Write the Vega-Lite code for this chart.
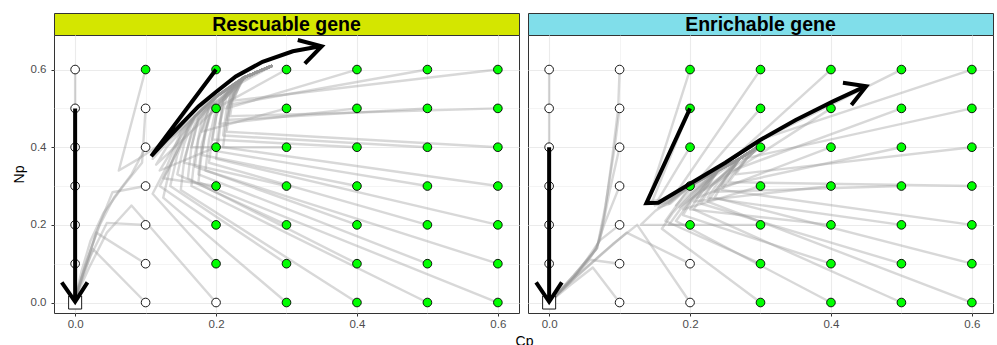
{
"$schema": "https://vega.github.io/schema/vega-lite/v6.json",
"padding": {"left": 11, "top": 12, "right": 4, "bottom": 0},
"background": "white",
"spacing": 7,
"title": {"text": "Cp", "orient": "bottom", "anchor": "middle", "frame": "bounds", "dx": 22, "offset": 4, "font": "Liberation Sans", "fontSize": 14, "fontWeight": "normal", "color": "black"},
"config": {
  "font": "Liberation Sans",
  "axis": {"labelFont": "Liberation Sans", "labelFontSize": 11.5, "labelColor": "#4d4d4d", "tickColor": "#333333", "tickSize": 3, "domain": false, "gridColor": "#ebebeb", "titleFont": "Liberation Sans", "titleFontSize": 14, "titleFontWeight": "normal", "titleColor": "black", "labelFlush": false, "labelOverlap": false}
},
"datasets": {
"points": [
{"p":"R","cp":0,"np":0,"f":"w","k":"s"},{"p":"R","cp":0,"np":0.1,"f":"w","k":"c"},{"p":"R","cp":0,"np":0.2,"f":"w","k":"c"},{"p":"R","cp":0,"np":0.3,"f":"w","k":"c"},{"p":"R","cp":0,"np":0.4,"f":"w","k":"c"},{"p":"R","cp":0,"np":0.5,"f":"w","k":"c"},{"p":"R","cp":0,"np":0.6,"f":"w","k":"c"},
{"p":"R","cp":0.1,"np":0,"f":"w","k":"c"},{"p":"R","cp":0.1,"np":0.1,"f":"w","k":"c"},{"p":"R","cp":0.1,"np":0.2,"f":"w","k":"c"},{"p":"R","cp":0.1,"np":0.3,"f":"w","k":"c"},{"p":"R","cp":0.1,"np":0.4,"f":"w","k":"c"},{"p":"R","cp":0.1,"np":0.5,"f":"w","k":"c"},{"p":"R","cp":0.1,"np":0.6,"f":"g","k":"c"},
{"p":"R","cp":0.2,"np":0,"f":"w","k":"c"},{"p":"R","cp":0.2,"np":0.1,"f":"g","k":"c"},{"p":"R","cp":0.2,"np":0.2,"f":"g","k":"c"},{"p":"R","cp":0.2,"np":0.3,"f":"g","k":"c"},{"p":"R","cp":0.2,"np":0.4,"f":"g","k":"c"},{"p":"R","cp":0.2,"np":0.5,"f":"g","k":"c"},{"p":"R","cp":0.2,"np":0.6,"f":"g","k":"c"},
{"p":"R","cp":0.3,"np":0,"f":"g","k":"c"},{"p":"R","cp":0.3,"np":0.1,"f":"g","k":"c"},{"p":"R","cp":0.3,"np":0.2,"f":"g","k":"c"},{"p":"R","cp":0.3,"np":0.3,"f":"g","k":"c"},{"p":"R","cp":0.3,"np":0.4,"f":"g","k":"c"},{"p":"R","cp":0.3,"np":0.5,"f":"g","k":"c"},{"p":"R","cp":0.3,"np":0.6,"f":"g","k":"c"},
{"p":"R","cp":0.4,"np":0,"f":"g","k":"c"},{"p":"R","cp":0.4,"np":0.1,"f":"g","k":"c"},{"p":"R","cp":0.4,"np":0.2,"f":"g","k":"c"},{"p":"R","cp":0.4,"np":0.3,"f":"g","k":"c"},{"p":"R","cp":0.4,"np":0.4,"f":"g","k":"c"},{"p":"R","cp":0.4,"np":0.5,"f":"g","k":"c"},{"p":"R","cp":0.4,"np":0.6,"f":"g","k":"c"},
{"p":"R","cp":0.5,"np":0,"f":"g","k":"c"},{"p":"R","cp":0.5,"np":0.1,"f":"g","k":"c"},{"p":"R","cp":0.5,"np":0.2,"f":"g","k":"c"},{"p":"R","cp":0.5,"np":0.3,"f":"g","k":"c"},{"p":"R","cp":0.5,"np":0.4,"f":"g","k":"c"},{"p":"R","cp":0.5,"np":0.5,"f":"g","k":"c"},{"p":"R","cp":0.5,"np":0.6,"f":"g","k":"c"},
{"p":"R","cp":0.6,"np":0,"f":"g","k":"c"},{"p":"R","cp":0.6,"np":0.1,"f":"g","k":"c"},{"p":"R","cp":0.6,"np":0.2,"f":"g","k":"c"},{"p":"R","cp":0.6,"np":0.3,"f":"g","k":"c"},{"p":"R","cp":0.6,"np":0.4,"f":"g","k":"c"},{"p":"R","cp":0.6,"np":0.5,"f":"g","k":"c"},{"p":"R","cp":0.6,"np":0.6,"f":"g","k":"c"},
{"p":"E","cp":0,"np":0,"f":"w","k":"s"},{"p":"E","cp":0,"np":0.1,"f":"w","k":"c"},{"p":"E","cp":0,"np":0.2,"f":"w","k":"c"},{"p":"E","cp":0,"np":0.3,"f":"w","k":"c"},{"p":"E","cp":0,"np":0.4,"f":"w","k":"c"},{"p":"E","cp":0,"np":0.5,"f":"w","k":"c"},{"p":"E","cp":0,"np":0.6,"f":"w","k":"c"},
{"p":"E","cp":0.1,"np":0,"f":"w","k":"c"},{"p":"E","cp":0.1,"np":0.1,"f":"w","k":"c"},{"p":"E","cp":0.1,"np":0.2,"f":"w","k":"c"},{"p":"E","cp":0.1,"np":0.3,"f":"w","k":"c"},{"p":"E","cp":0.1,"np":0.4,"f":"w","k":"c"},{"p":"E","cp":0.1,"np":0.5,"f":"w","k":"c"},{"p":"E","cp":0.1,"np":0.6,"f":"w","k":"c"},
{"p":"E","cp":0.2,"np":0,"f":"w","k":"c"},{"p":"E","cp":0.2,"np":0.1,"f":"w","k":"c"},{"p":"E","cp":0.2,"np":0.2,"f":"g","k":"c"},{"p":"E","cp":0.2,"np":0.3,"f":"g","k":"c"},{"p":"E","cp":0.2,"np":0.4,"f":"g","k":"c"},{"p":"E","cp":0.2,"np":0.5,"f":"g","k":"c"},{"p":"E","cp":0.2,"np":0.6,"f":"g","k":"c"},
{"p":"E","cp":0.3,"np":0,"f":"g","k":"c"},{"p":"E","cp":0.3,"np":0.1,"f":"g","k":"c"},{"p":"E","cp":0.3,"np":0.2,"f":"g","k":"c"},{"p":"E","cp":0.3,"np":0.3,"f":"g","k":"c"},{"p":"E","cp":0.3,"np":0.4,"f":"g","k":"c"},{"p":"E","cp":0.3,"np":0.5,"f":"g","k":"c"},{"p":"E","cp":0.3,"np":0.6,"f":"g","k":"c"},
{"p":"E","cp":0.4,"np":0,"f":"g","k":"c"},{"p":"E","cp":0.4,"np":0.1,"f":"g","k":"c"},{"p":"E","cp":0.4,"np":0.2,"f":"g","k":"c"},{"p":"E","cp":0.4,"np":0.3,"f":"g","k":"c"},{"p":"E","cp":0.4,"np":0.4,"f":"g","k":"c"},{"p":"E","cp":0.4,"np":0.5,"f":"g","k":"c"},{"p":"E","cp":0.4,"np":0.6,"f":"g","k":"c"},
{"p":"E","cp":0.5,"np":0,"f":"g","k":"c"},{"p":"E","cp":0.5,"np":0.1,"f":"g","k":"c"},{"p":"E","cp":0.5,"np":0.2,"f":"g","k":"c"},{"p":"E","cp":0.5,"np":0.3,"f":"g","k":"c"},{"p":"E","cp":0.5,"np":0.4,"f":"g","k":"c"},{"p":"E","cp":0.5,"np":0.5,"f":"g","k":"c"},{"p":"E","cp":0.5,"np":0.6,"f":"g","k":"c"},
{"p":"E","cp":0.6,"np":0,"f":"g","k":"c"},{"p":"E","cp":0.6,"np":0.1,"f":"g","k":"c"},{"p":"E","cp":0.6,"np":0.2,"f":"g","k":"c"},{"p":"E","cp":0.6,"np":0.3,"f":"g","k":"c"},{"p":"E","cp":0.6,"np":0.4,"f":"g","k":"c"},{"p":"E","cp":0.6,"np":0.5,"f":"g","k":"c"},{"p":"E","cp":0.6,"np":0.6,"f":"g","k":"c"}
],
"traj": [
{"p":"R","id":"g1","o":0,"cp":0.1,"np":0.6},{"p":"R","id":"g1","o":1,"cp":0.062,"np":0.34},{"p":"R","id":"g1","o":2,"cp":0.09,"np":0.37},{"p":"R","id":"g1","o":3,"cp":0.14,"np":0.43},{"p":"R","id":"g1","o":4,"cp":0.17,"np":0.48},{"p":"R","id":"g1","o":5,"cp":0.2,"np":0.53},{"p":"R","id":"g1","o":6,"cp":0.24,"np":0.58},{"p":"R","id":"g1","o":7,"cp":0.28,"np":0.61},
{"p":"R","id":"g2","o":0,"cp":0.2,"np":0.6},{"p":"R","id":"g2","o":1,"cp":0.11,"np":0.37},{"p":"R","id":"g2","o":2,"cp":0.14,"np":0.43},{"p":"R","id":"g2","o":3,"cp":0.17,"np":0.48},{"p":"R","id":"g2","o":4,"cp":0.2,"np":0.53},{"p":"R","id":"g2","o":5,"cp":0.24,"np":0.58},{"p":"R","id":"g2","o":6,"cp":0.28,"np":0.61},
{"p":"R","id":"g3","o":0,"cp":0.2,"np":0.5},{"p":"R","id":"g3","o":1,"cp":0.115,"np":0.355},{"p":"R","id":"g3","o":2,"cp":0.13,"np":0.4},{"p":"R","id":"g3","o":3,"cp":0.17,"np":0.48},{"p":"R","id":"g3","o":4,"cp":0.2,"np":0.53},{"p":"R","id":"g3","o":5,"cp":0.24,"np":0.58},{"p":"R","id":"g3","o":6,"cp":0.28,"np":0.61},
{"p":"R","id":"g4","o":0,"cp":0.2,"np":0.4},{"p":"R","id":"g4","o":1,"cp":0.12,"np":0.34},{"p":"R","id":"g4","o":2,"cp":0.14,"np":0.4},{"p":"R","id":"g4","o":3,"cp":0.17,"np":0.48},{"p":"R","id":"g4","o":4,"cp":0.2,"np":0.53},{"p":"R","id":"g4","o":5,"cp":0.24,"np":0.58},{"p":"R","id":"g4","o":6,"cp":0.28,"np":0.61},
{"p":"R","id":"g5","o":0,"cp":0.2,"np":0.3},{"p":"R","id":"g5","o":1,"cp":0.125,"np":0.32},{"p":"R","id":"g5","o":2,"cp":0.145,"np":0.39},{"p":"R","id":"g5","o":3,"cp":0.17,"np":0.48},{"p":"R","id":"g5","o":4,"cp":0.2,"np":0.53},{"p":"R","id":"g5","o":5,"cp":0.24,"np":0.58},{"p":"R","id":"g5","o":6,"cp":0.28,"np":0.61},
{"p":"R","id":"g6","o":0,"cp":0.2,"np":0.2},{"p":"R","id":"g6","o":1,"cp":0.12,"np":0.3},{"p":"R","id":"g6","o":2,"cp":0.14,"np":0.37},{"p":"R","id":"g6","o":3,"cp":0.16,"np":0.45},{"p":"R","id":"g6","o":4,"cp":0.2,"np":0.53},{"p":"R","id":"g6","o":5,"cp":0.24,"np":0.58},{"p":"R","id":"g6","o":6,"cp":0.28,"np":0.61},
{"p":"R","id":"g7","o":0,"cp":0.2,"np":0.1},{"p":"R","id":"g7","o":1,"cp":0.11,"np":0.28},{"p":"R","id":"g7","o":2,"cp":0.13,"np":0.35},{"p":"R","id":"g7","o":3,"cp":0.15,"np":0.44},{"p":"R","id":"g7","o":4,"cp":0.19,"np":0.52},{"p":"R","id":"g7","o":5,"cp":0.24,"np":0.58},{"p":"R","id":"g7","o":6,"cp":0.28,"np":0.61},
{"p":"R","id":"g8","o":0,"cp":0.3,"np":0.6},{"p":"R","id":"g8","o":1,"cp":0.2,"np":0.5},{"p":"R","id":"g8","o":2,"cp":0.22,"np":0.55},{"p":"R","id":"g8","o":3,"cp":0.24,"np":0.58},{"p":"R","id":"g8","o":4,"cp":0.28,"np":0.61},
{"p":"R","id":"g9","o":0,"cp":0.3,"np":0.5},{"p":"R","id":"g9","o":1,"cp":0.18,"np":0.44},{"p":"R","id":"g9","o":2,"cp":0.19,"np":0.5},{"p":"R","id":"g9","o":3,"cp":0.24,"np":0.58},{"p":"R","id":"g9","o":4,"cp":0.28,"np":0.61},
{"p":"R","id":"g10","o":0,"cp":0.3,"np":0.4},{"p":"R","id":"g10","o":1,"cp":0.165,"np":0.4},{"p":"R","id":"g10","o":2,"cp":0.175,"np":0.47},{"p":"R","id":"g10","o":3,"cp":0.2,"np":0.53},{"p":"R","id":"g10","o":4,"cp":0.24,"np":0.58},{"p":"R","id":"g10","o":5,"cp":0.28,"np":0.61},
{"p":"R","id":"g11","o":0,"cp":0.3,"np":0.3},{"p":"R","id":"g11","o":1,"cp":0.155,"np":0.36},{"p":"R","id":"g11","o":2,"cp":0.165,"np":0.44},{"p":"R","id":"g11","o":3,"cp":0.2,"np":0.53},{"p":"R","id":"g11","o":4,"cp":0.24,"np":0.58},{"p":"R","id":"g11","o":5,"cp":0.28,"np":0.61},
{"p":"R","id":"g12","o":0,"cp":0.3,"np":0.2},{"p":"R","id":"g12","o":1,"cp":0.145,"np":0.33},{"p":"R","id":"g12","o":2,"cp":0.155,"np":0.41},{"p":"R","id":"g12","o":3,"cp":0.17,"np":0.48},{"p":"R","id":"g12","o":4,"cp":0.2,"np":0.53},{"p":"R","id":"g12","o":5,"cp":0.24,"np":0.58},{"p":"R","id":"g12","o":6,"cp":0.28,"np":0.61},
{"p":"R","id":"g13","o":0,"cp":0.3,"np":0.1},{"p":"R","id":"g13","o":1,"cp":0.135,"np":0.3},{"p":"R","id":"g13","o":2,"cp":0.145,"np":0.38},{"p":"R","id":"g13","o":3,"cp":0.165,"np":0.47},{"p":"R","id":"g13","o":4,"cp":0.2,"np":0.53},{"p":"R","id":"g13","o":5,"cp":0.24,"np":0.58},{"p":"R","id":"g13","o":6,"cp":0.28,"np":0.61},
{"p":"R","id":"g14","o":0,"cp":0.3,"np":0.0},{"p":"R","id":"g14","o":1,"cp":0.125,"np":0.27},{"p":"R","id":"g14","o":2,"cp":0.135,"np":0.35},{"p":"R","id":"g14","o":3,"cp":0.15,"np":0.43},{"p":"R","id":"g14","o":4,"cp":0.18,"np":0.5},{"p":"R","id":"g14","o":5,"cp":0.24,"np":0.58},{"p":"R","id":"g14","o":6,"cp":0.28,"np":0.61},
{"p":"R","id":"g15","o":0,"cp":0.4,"np":0.6},{"p":"R","id":"g15","o":1,"cp":0.215,"np":0.5},{"p":"R","id":"g15","o":2,"cp":0.225,"np":0.56},{"p":"R","id":"g15","o":3,"cp":0.24,"np":0.58},{"p":"R","id":"g15","o":4,"cp":0.28,"np":0.61},
{"p":"R","id":"g16","o":0,"cp":0.4,"np":0.5},{"p":"R","id":"g16","o":1,"cp":0.205,"np":0.46},{"p":"R","id":"g16","o":2,"cp":0.21,"np":0.52},{"p":"R","id":"g16","o":3,"cp":0.24,"np":0.58},{"p":"R","id":"g16","o":4,"cp":0.28,"np":0.61},
{"p":"R","id":"g17","o":0,"cp":0.4,"np":0.4},{"p":"R","id":"g17","o":1,"cp":0.195,"np":0.42},{"p":"R","id":"g17","o":2,"cp":0.2,"np":0.48},{"p":"R","id":"g17","o":3,"cp":0.215,"np":0.54},{"p":"R","id":"g17","o":4,"cp":0.24,"np":0.58},{"p":"R","id":"g17","o":5,"cp":0.28,"np":0.61},
{"p":"R","id":"g18","o":0,"cp":0.4,"np":0.3},{"p":"R","id":"g18","o":1,"cp":0.18,"np":0.38},{"p":"R","id":"g18","o":2,"cp":0.185,"np":0.45},{"p":"R","id":"g18","o":3,"cp":0.2,"np":0.53},{"p":"R","id":"g18","o":4,"cp":0.24,"np":0.58},{"p":"R","id":"g18","o":5,"cp":0.28,"np":0.61},
{"p":"R","id":"g19","o":0,"cp":0.4,"np":0.2},{"p":"R","id":"g19","o":1,"cp":0.17,"np":0.35},{"p":"R","id":"g19","o":2,"cp":0.175,"np":0.42},{"p":"R","id":"g19","o":3,"cp":0.19,"np":0.5},{"p":"R","id":"g19","o":4,"cp":0.24,"np":0.58},{"p":"R","id":"g19","o":5,"cp":0.28,"np":0.61},
{"p":"R","id":"g20","o":0,"cp":0.4,"np":0.1},{"p":"R","id":"g20","o":1,"cp":0.16,"np":0.32},{"p":"R","id":"g20","o":2,"cp":0.165,"np":0.4},{"p":"R","id":"g20","o":3,"cp":0.175,"np":0.48},{"p":"R","id":"g20","o":4,"cp":0.2,"np":0.53},{"p":"R","id":"g20","o":5,"cp":0.24,"np":0.58},{"p":"R","id":"g20","o":6,"cp":0.28,"np":0.61},
{"p":"R","id":"g21","o":0,"cp":0.4,"np":0.0},{"p":"R","id":"g21","o":1,"cp":0.15,"np":0.29},{"p":"R","id":"g21","o":2,"cp":0.155,"np":0.37},{"p":"R","id":"g21","o":3,"cp":0.17,"np":0.46},{"p":"R","id":"g21","o":4,"cp":0.2,"np":0.53},{"p":"R","id":"g21","o":5,"cp":0.24,"np":0.58},{"p":"R","id":"g21","o":6,"cp":0.28,"np":0.61},
{"p":"R","id":"g22","o":0,"cp":0.5,"np":0.6},{"p":"R","id":"g22","o":1,"cp":0.22,"np":0.51},{"p":"R","id":"g22","o":2,"cp":0.23,"np":0.56},{"p":"R","id":"g22","o":3,"cp":0.24,"np":0.58},{"p":"R","id":"g22","o":4,"cp":0.28,"np":0.61},
{"p":"R","id":"g23","o":0,"cp":0.5,"np":0.5},{"p":"R","id":"g23","o":1,"cp":0.215,"np":0.47},{"p":"R","id":"g23","o":2,"cp":0.22,"np":0.53},{"p":"R","id":"g23","o":3,"cp":0.24,"np":0.58},{"p":"R","id":"g23","o":4,"cp":0.28,"np":0.61},
{"p":"R","id":"g24","o":0,"cp":0.5,"np":0.4},{"p":"R","id":"g24","o":1,"cp":0.21,"np":0.43},{"p":"R","id":"g24","o":2,"cp":0.215,"np":0.5},{"p":"R","id":"g24","o":3,"cp":0.24,"np":0.58},{"p":"R","id":"g24","o":4,"cp":0.28,"np":0.61},
{"p":"R","id":"g25","o":0,"cp":0.5,"np":0.3},{"p":"R","id":"g25","o":1,"cp":0.2,"np":0.39},{"p":"R","id":"g25","o":2,"cp":0.205,"np":0.46},{"p":"R","id":"g25","o":3,"cp":0.215,"np":0.53},{"p":"R","id":"g25","o":4,"cp":0.24,"np":0.58},{"p":"R","id":"g25","o":5,"cp":0.28,"np":0.61},
{"p":"R","id":"g26","o":0,"cp":0.5,"np":0.2},{"p":"R","id":"g26","o":1,"cp":0.19,"np":0.36},{"p":"R","id":"g26","o":2,"cp":0.195,"np":0.43},{"p":"R","id":"g26","o":3,"cp":0.205,"np":0.52},{"p":"R","id":"g26","o":4,"cp":0.24,"np":0.58},{"p":"R","id":"g26","o":5,"cp":0.28,"np":0.61},
{"p":"R","id":"g27","o":0,"cp":0.5,"np":0.1},{"p":"R","id":"g27","o":1,"cp":0.175,"np":0.33},{"p":"R","id":"g27","o":2,"cp":0.18,"np":0.41},{"p":"R","id":"g27","o":3,"cp":0.195,"np":0.5},{"p":"R","id":"g27","o":4,"cp":0.24,"np":0.58},{"p":"R","id":"g27","o":5,"cp":0.28,"np":0.61},
{"p":"R","id":"g28","o":0,"cp":0.5,"np":0.0},{"p":"R","id":"g28","o":1,"cp":0.165,"np":0.3},{"p":"R","id":"g28","o":2,"cp":0.17,"np":0.38},{"p":"R","id":"g28","o":3,"cp":0.18,"np":0.47},{"p":"R","id":"g28","o":4,"cp":0.2,"np":0.53},{"p":"R","id":"g28","o":5,"cp":0.24,"np":0.58},{"p":"R","id":"g28","o":6,"cp":0.28,"np":0.61},
{"p":"R","id":"g29","o":0,"cp":0.6,"np":0.6},{"p":"R","id":"g29","o":1,"cp":0.225,"np":0.52},{"p":"R","id":"g29","o":2,"cp":0.235,"np":0.57},{"p":"R","id":"g29","o":3,"cp":0.28,"np":0.61},
{"p":"R","id":"g30","o":0,"cp":0.6,"np":0.5},{"p":"R","id":"g30","o":1,"cp":0.22,"np":0.48},{"p":"R","id":"g30","o":2,"cp":0.225,"np":0.54},{"p":"R","id":"g30","o":3,"cp":0.24,"np":0.58},{"p":"R","id":"g30","o":4,"cp":0.28,"np":0.61},
{"p":"R","id":"g31","o":0,"cp":0.6,"np":0.4},{"p":"R","id":"g31","o":1,"cp":0.215,"np":0.44},{"p":"R","id":"g31","o":2,"cp":0.22,"np":0.51},{"p":"R","id":"g31","o":3,"cp":0.24,"np":0.58},{"p":"R","id":"g31","o":4,"cp":0.28,"np":0.61},
{"p":"R","id":"g32","o":0,"cp":0.6,"np":0.3},{"p":"R","id":"g32","o":1,"cp":0.21,"np":0.4},{"p":"R","id":"g32","o":2,"cp":0.215,"np":0.47},{"p":"R","id":"g32","o":3,"cp":0.225,"np":0.54},{"p":"R","id":"g32","o":4,"cp":0.24,"np":0.58},{"p":"R","id":"g32","o":5,"cp":0.28,"np":0.61},
{"p":"R","id":"g33","o":0,"cp":0.6,"np":0.2},{"p":"R","id":"g33","o":1,"cp":0.2,"np":0.37},{"p":"R","id":"g33","o":2,"cp":0.205,"np":0.44},{"p":"R","id":"g33","o":3,"cp":0.21,"np":0.52},{"p":"R","id":"g33","o":4,"cp":0.24,"np":0.58},{"p":"R","id":"g33","o":5,"cp":0.28,"np":0.61},
{"p":"R","id":"g34","o":0,"cp":0.6,"np":0.1},{"p":"R","id":"g34","o":1,"cp":0.185,"np":0.34},{"p":"R","id":"g34","o":2,"cp":0.19,"np":0.42},{"p":"R","id":"g34","o":3,"cp":0.2,"np":0.5},{"p":"R","id":"g34","o":4,"cp":0.24,"np":0.58},{"p":"R","id":"g34","o":5,"cp":0.28,"np":0.61},
{"p":"R","id":"g35","o":0,"cp":0.6,"np":0.0},{"p":"R","id":"g35","o":1,"cp":0.175,"np":0.31},{"p":"R","id":"g35","o":2,"cp":0.18,"np":0.39},{"p":"R","id":"g35","o":3,"cp":0.19,"np":0.48},{"p":"R","id":"g35","o":4,"cp":0.22,"np":0.55},{"p":"R","id":"g35","o":5,"cp":0.28,"np":0.61},
{"p":"R","id":"w1","o":0,"cp":0.1,"np":0.0},{"p":"R","id":"w1","o":1,"cp":0.025,"np":0.138},{"p":"R","id":"w1","o":2,"cp":0.012,"np":0.075},{"p":"R","id":"w1","o":3,"cp":0.004,"np":0.03},{"p":"R","id":"w1","o":4,"cp":0,"np":0},
{"p":"R","id":"w2","o":0,"cp":0.1,"np":0.1},{"p":"R","id":"w2","o":1,"cp":0.03,"np":0.18},{"p":"R","id":"w2","o":2,"cp":0.016,"np":0.1},{"p":"R","id":"w2","o":3,"cp":0.005,"np":0.04},{"p":"R","id":"w2","o":4,"cp":0,"np":0},
{"p":"R","id":"w3","o":0,"cp":0.1,"np":0.2},{"p":"R","id":"w3","o":1,"cp":0.045,"np":0.205},{"p":"R","id":"w3","o":2,"cp":0.022,"np":0.12},{"p":"R","id":"w3","o":3,"cp":0.007,"np":0.045},{"p":"R","id":"w3","o":4,"cp":0,"np":0},
{"p":"R","id":"w4","o":0,"cp":0.1,"np":0.3},{"p":"R","id":"w4","o":1,"cp":0.053,"np":0.284},{"p":"R","id":"w4","o":2,"cp":0.03,"np":0.18},{"p":"R","id":"w4","o":3,"cp":0.012,"np":0.08},{"p":"R","id":"w4","o":4,"cp":0.003,"np":0.025},{"p":"R","id":"w4","o":5,"cp":0,"np":0},
{"p":"R","id":"w5","o":0,"cp":0.1,"np":0.4},{"p":"R","id":"w5","o":1,"cp":0.08,"np":0.33},{"p":"R","id":"w5","o":2,"cp":0.055,"np":0.27},{"p":"R","id":"w5","o":3,"cp":0.035,"np":0.2},{"p":"R","id":"w5","o":4,"cp":0.015,"np":0.1},{"p":"R","id":"w5","o":5,"cp":0.004,"np":0.035},{"p":"R","id":"w5","o":6,"cp":0,"np":0},
{"p":"R","id":"w6","o":0,"cp":0.1,"np":0.5},{"p":"R","id":"w6","o":1,"cp":0.095,"np":0.36},{"p":"R","id":"w6","o":2,"cp":0.067,"np":0.297},{"p":"R","id":"w6","o":3,"cp":0.04,"np":0.23},{"p":"R","id":"w6","o":4,"cp":0.022,"np":0.16},{"p":"R","id":"w6","o":5,"cp":0.009,"np":0.08},{"p":"R","id":"w6","o":6,"cp":0.002,"np":0.025},{"p":"R","id":"w6","o":7,"cp":0,"np":0},
{"p":"R","id":"w7","o":0,"cp":0.2,"np":0.0},{"p":"R","id":"w7","o":1,"cp":0.08,"np":0.25},{"p":"R","id":"w7","o":2,"cp":0.045,"np":0.18},{"p":"R","id":"w7","o":3,"cp":0.02,"np":0.09},{"p":"R","id":"w7","o":4,"cp":0.005,"np":0.03},{"p":"R","id":"w7","o":5,"cp":0,"np":0},
{"p":"R","id":"w8","o":0,"cp":0,"np":0.6},{"p":"R","id":"w8","o":1,"cp":0,"np":0},
{"p":"R","id":"w9","o":0,"cp":0,"np":0.3},{"p":"R","id":"w9","o":1,"cp":0,"np":0},
{"p":"E","id":"e1","o":0,"cp":0.2,"np":0.6},{"p":"E","id":"e1","o":1,"cp":0.14,"np":0.26},{"p":"E","id":"e1","o":2,"cp":0.16,"np":0.265},{"p":"E","id":"e1","o":3,"cp":0.2,"np":0.3},{"p":"E","id":"e1","o":4,"cp":0.24,"np":0.34},{"p":"E","id":"e1","o":5,"cp":0.27,"np":0.37},{"p":"E","id":"e1","o":6,"cp":0.3,"np":0.405},
{"p":"E","id":"e2","o":0,"cp":0.2,"np":0.5},{"p":"E","id":"e2","o":1,"cp":0.145,"np":0.255},{"p":"E","id":"e2","o":2,"cp":0.165,"np":0.262},{"p":"E","id":"e2","o":3,"cp":0.2,"np":0.3},{"p":"E","id":"e2","o":4,"cp":0.24,"np":0.34},{"p":"E","id":"e2","o":5,"cp":0.27,"np":0.37},{"p":"E","id":"e2","o":6,"cp":0.3,"np":0.405},
{"p":"E","id":"e3","o":0,"cp":0.2,"np":0.4},{"p":"E","id":"e3","o":1,"cp":0.15,"np":0.25},{"p":"E","id":"e3","o":2,"cp":0.168,"np":0.258},{"p":"E","id":"e3","o":3,"cp":0.2,"np":0.3},{"p":"E","id":"e3","o":4,"cp":0.24,"np":0.34},{"p":"E","id":"e3","o":5,"cp":0.27,"np":0.37},{"p":"E","id":"e3","o":6,"cp":0.3,"np":0.405},
{"p":"E","id":"e4","o":0,"cp":0.2,"np":0.3},{"p":"E","id":"e4","o":1,"cp":0.155,"np":0.245},{"p":"E","id":"e4","o":2,"cp":0.172,"np":0.255},{"p":"E","id":"e4","o":3,"cp":0.2,"np":0.3},{"p":"E","id":"e4","o":4,"cp":0.24,"np":0.34},{"p":"E","id":"e4","o":5,"cp":0.27,"np":0.37},{"p":"E","id":"e4","o":6,"cp":0.3,"np":0.405},
{"p":"E","id":"e5","o":0,"cp":0.2,"np":0.2},{"p":"E","id":"e5","o":1,"cp":0.13,"np":0.2},{"p":"E","id":"e5","o":2,"cp":0.15,"np":0.235},{"p":"E","id":"e5","o":3,"cp":0.175,"np":0.265},{"p":"E","id":"e5","o":4,"cp":0.2,"np":0.3},{"p":"E","id":"e5","o":5,"cp":0.24,"np":0.34},{"p":"E","id":"e5","o":6,"cp":0.27,"np":0.37},{"p":"E","id":"e5","o":7,"cp":0.3,"np":0.405},
{"p":"E","id":"e6","o":0,"cp":0.3,"np":0.6},{"p":"E","id":"e6","o":1,"cp":0.17,"np":0.255},{"p":"E","id":"e6","o":2,"cp":0.2,"np":0.3},{"p":"E","id":"e6","o":3,"cp":0.24,"np":0.34},{"p":"E","id":"e6","o":4,"cp":0.27,"np":0.37},{"p":"E","id":"e6","o":5,"cp":0.3,"np":0.405},
{"p":"E","id":"e7","o":0,"cp":0.3,"np":0.5},{"p":"E","id":"e7","o":1,"cp":0.18,"np":0.25},{"p":"E","id":"e7","o":2,"cp":0.2,"np":0.29},{"p":"E","id":"e7","o":3,"cp":0.24,"np":0.34},{"p":"E","id":"e7","o":4,"cp":0.27,"np":0.37},{"p":"E","id":"e7","o":5,"cp":0.3,"np":0.405},
{"p":"E","id":"e8","o":0,"cp":0.3,"np":0.4},{"p":"E","id":"e8","o":1,"cp":0.185,"np":0.245},{"p":"E","id":"e8","o":2,"cp":0.205,"np":0.285},{"p":"E","id":"e8","o":3,"cp":0.24,"np":0.34},{"p":"E","id":"e8","o":4,"cp":0.27,"np":0.37},{"p":"E","id":"e8","o":5,"cp":0.3,"np":0.405},
{"p":"E","id":"e9","o":0,"cp":0.3,"np":0.3},{"p":"E","id":"e9","o":1,"cp":0.19,"np":0.24},{"p":"E","id":"e9","o":2,"cp":0.21,"np":0.285},{"p":"E","id":"e9","o":3,"cp":0.24,"np":0.34},{"p":"E","id":"e9","o":4,"cp":0.27,"np":0.37},{"p":"E","id":"e9","o":5,"cp":0.3,"np":0.405},
{"p":"E","id":"e10","o":0,"cp":0.3,"np":0.2},{"p":"E","id":"e10","o":1,"cp":0.17,"np":0.2},{"p":"E","id":"e10","o":2,"cp":0.19,"np":0.25},{"p":"E","id":"e10","o":3,"cp":0.21,"np":0.29},{"p":"E","id":"e10","o":4,"cp":0.24,"np":0.34},{"p":"E","id":"e10","o":5,"cp":0.27,"np":0.37},{"p":"E","id":"e10","o":6,"cp":0.3,"np":0.405},
{"p":"E","id":"e11","o":0,"cp":0.3,"np":0.1},{"p":"E","id":"e11","o":1,"cp":0.165,"np":0.21},{"p":"E","id":"e11","o":2,"cp":0.185,"np":0.26},{"p":"E","id":"e11","o":3,"cp":0.2,"np":0.3},{"p":"E","id":"e11","o":4,"cp":0.24,"np":0.34},{"p":"E","id":"e11","o":5,"cp":0.27,"np":0.37},{"p":"E","id":"e11","o":6,"cp":0.3,"np":0.405},
{"p":"E","id":"e12","o":0,"cp":0.3,"np":0.0},{"p":"E","id":"e12","o":1,"cp":0.16,"np":0.19},{"p":"E","id":"e12","o":2,"cp":0.175,"np":0.23},{"p":"E","id":"e12","o":3,"cp":0.2,"np":0.28},{"p":"E","id":"e12","o":4,"cp":0.24,"np":0.34},{"p":"E","id":"e12","o":5,"cp":0.27,"np":0.37},{"p":"E","id":"e12","o":6,"cp":0.3,"np":0.405},
{"p":"E","id":"e13","o":0,"cp":0.4,"np":0.6},{"p":"E","id":"e13","o":1,"cp":0.23,"np":0.32},{"p":"E","id":"e13","o":2,"cp":0.27,"np":0.37},{"p":"E","id":"e13","o":3,"cp":0.3,"np":0.405},
{"p":"E","id":"e14","o":0,"cp":0.4,"np":0.5},{"p":"E","id":"e14","o":1,"cp":0.22,"np":0.29},{"p":"E","id":"e14","o":2,"cp":0.24,"np":0.34},{"p":"E","id":"e14","o":3,"cp":0.27,"np":0.37},{"p":"E","id":"e14","o":4,"cp":0.3,"np":0.405},
{"p":"E","id":"e15","o":0,"cp":0.4,"np":0.4},{"p":"E","id":"e15","o":1,"cp":0.21,"np":0.27},{"p":"E","id":"e15","o":2,"cp":0.225,"np":0.3},{"p":"E","id":"e15","o":3,"cp":0.24,"np":0.34},{"p":"E","id":"e15","o":4,"cp":0.27,"np":0.37},{"p":"E","id":"e15","o":5,"cp":0.3,"np":0.405},
{"p":"E","id":"e16","o":0,"cp":0.4,"np":0.3},{"p":"E","id":"e16","o":1,"cp":0.205,"np":0.26},{"p":"E","id":"e16","o":2,"cp":0.22,"np":0.3},{"p":"E","id":"e16","o":3,"cp":0.24,"np":0.34},{"p":"E","id":"e16","o":4,"cp":0.27,"np":0.37},{"p":"E","id":"e16","o":5,"cp":0.3,"np":0.405},
{"p":"E","id":"e17","o":0,"cp":0.4,"np":0.2},{"p":"E","id":"e17","o":1,"cp":0.2,"np":0.24},{"p":"E","id":"e17","o":2,"cp":0.215,"np":0.28},{"p":"E","id":"e17","o":3,"cp":0.24,"np":0.34},{"p":"E","id":"e17","o":4,"cp":0.27,"np":0.37},{"p":"E","id":"e17","o":5,"cp":0.3,"np":0.405},
{"p":"E","id":"e18","o":0,"cp":0.4,"np":0.1},{"p":"E","id":"e18","o":1,"cp":0.19,"np":0.225},{"p":"E","id":"e18","o":2,"cp":0.205,"np":0.27},{"p":"E","id":"e18","o":3,"cp":0.24,"np":0.34},{"p":"E","id":"e18","o":4,"cp":0.27,"np":0.37},{"p":"E","id":"e18","o":5,"cp":0.3,"np":0.405},
{"p":"E","id":"e19","o":0,"cp":0.4,"np":0.0},{"p":"E","id":"e19","o":1,"cp":0.18,"np":0.21},{"p":"E","id":"e19","o":2,"cp":0.2,"np":0.26},{"p":"E","id":"e19","o":3,"cp":0.24,"np":0.34},{"p":"E","id":"e19","o":4,"cp":0.27,"np":0.37},{"p":"E","id":"e19","o":5,"cp":0.3,"np":0.405},
{"p":"E","id":"e20","o":0,"cp":0.5,"np":0.6},{"p":"E","id":"e20","o":1,"cp":0.28,"np":0.4},{"p":"E","id":"e20","o":2,"cp":0.3,"np":0.415},
{"p":"E","id":"e21","o":0,"cp":0.5,"np":0.5},{"p":"E","id":"e21","o":1,"cp":0.26,"np":0.34},{"p":"E","id":"e21","o":2,"cp":0.27,"np":0.37},{"p":"E","id":"e21","o":3,"cp":0.3,"np":0.405},
{"p":"E","id":"e22","o":0,"cp":0.5,"np":0.4},{"p":"E","id":"e22","o":1,"cp":0.245,"np":0.3},{"p":"E","id":"e22","o":2,"cp":0.255,"np":0.33},{"p":"E","id":"e22","o":3,"cp":0.27,"np":0.37},{"p":"E","id":"e22","o":4,"cp":0.3,"np":0.405},
{"p":"E","id":"e23","o":0,"cp":0.5,"np":0.3},{"p":"E","id":"e23","o":1,"cp":0.235,"np":0.285},{"p":"E","id":"e23","o":2,"cp":0.25,"np":0.32},{"p":"E","id":"e23","o":3,"cp":0.27,"np":0.37},{"p":"E","id":"e23","o":4,"cp":0.3,"np":0.405},
{"p":"E","id":"e24","o":0,"cp":0.5,"np":0.2},{"p":"E","id":"e24","o":1,"cp":0.225,"np":0.27},{"p":"E","id":"e24","o":2,"cp":0.24,"np":0.31},{"p":"E","id":"e24","o":3,"cp":0.27,"np":0.37},{"p":"E","id":"e24","o":4,"cp":0.3,"np":0.405},
{"p":"E","id":"e25","o":0,"cp":0.5,"np":0.1},{"p":"E","id":"e25","o":1,"cp":0.215,"np":0.255},{"p":"E","id":"e25","o":2,"cp":0.23,"np":0.3},{"p":"E","id":"e25","o":3,"cp":0.27,"np":0.37},{"p":"E","id":"e25","o":4,"cp":0.3,"np":0.405},
{"p":"E","id":"e26","o":0,"cp":0.5,"np":0.0},{"p":"E","id":"e26","o":1,"cp":0.205,"np":0.24},{"p":"E","id":"e26","o":2,"cp":0.225,"np":0.29},{"p":"E","id":"e26","o":3,"cp":0.27,"np":0.37},{"p":"E","id":"e26","o":4,"cp":0.3,"np":0.405},
{"p":"E","id":"e27","o":0,"cp":0.6,"np":0.6},{"p":"E","id":"e27","o":1,"cp":0.3,"np":0.42},
{"p":"E","id":"e28","o":0,"cp":0.6,"np":0.5},{"p":"E","id":"e28","o":1,"cp":0.275,"np":0.37},{"p":"E","id":"e28","o":2,"cp":0.3,"np":0.405},
{"p":"E","id":"e29","o":0,"cp":0.6,"np":0.4},{"p":"E","id":"e29","o":1,"cp":0.265,"np":0.33},{"p":"E","id":"e29","o":2,"cp":0.28,"np":0.37},{"p":"E","id":"e29","o":3,"cp":0.3,"np":0.405},
{"p":"E","id":"e30","o":0,"cp":0.6,"np":0.3},{"p":"E","id":"e30","o":1,"cp":0.255,"np":0.31},{"p":"E","id":"e30","o":2,"cp":0.275,"np":0.36},{"p":"E","id":"e30","o":3,"cp":0.3,"np":0.405},
{"p":"E","id":"e31","o":0,"cp":0.6,"np":0.2},{"p":"E","id":"e31","o":1,"cp":0.245,"np":0.29},{"p":"E","id":"e31","o":2,"cp":0.26,"np":0.33},{"p":"E","id":"e31","o":3,"cp":0.28,"np":0.37},{"p":"E","id":"e31","o":4,"cp":0.3,"np":0.405},
{"p":"E","id":"e32","o":0,"cp":0.6,"np":0.1},{"p":"E","id":"e32","o":1,"cp":0.235,"np":0.27},{"p":"E","id":"e32","o":2,"cp":0.25,"np":0.32},{"p":"E","id":"e32","o":3,"cp":0.27,"np":0.37},{"p":"E","id":"e32","o":4,"cp":0.3,"np":0.405},
{"p":"E","id":"e33","o":0,"cp":0.6,"np":0.0},{"p":"E","id":"e33","o":1,"cp":0.225,"np":0.26},{"p":"E","id":"e33","o":2,"cp":0.245,"np":0.31},{"p":"E","id":"e33","o":3,"cp":0.27,"np":0.37},{"p":"E","id":"e33","o":4,"cp":0.3,"np":0.405},
{"p":"E","id":"f1","o":0,"cp":0,"np":0.6},{"p":"E","id":"f1","o":1,"cp":0,"np":0},
{"p":"E","id":"f2","o":0,"cp":0,"np":0.3},{"p":"E","id":"f2","o":1,"cp":0,"np":0},
{"p":"E","id":"f3","o":0,"cp":0.1,"np":0.6},{"p":"E","id":"f3","o":1,"cp":0.098,"np":0.5},{"p":"E","id":"f3","o":2,"cp":0.09,"np":0.38},{"p":"E","id":"f3","o":3,"cp":0.078,"np":0.22},{"p":"E","id":"f3","o":4,"cp":0.068,"np":0.14},{"p":"E","id":"f3","o":5,"cp":0.035,"np":0.07},{"p":"E","id":"f3","o":6,"cp":0,"np":0},
{"p":"E","id":"f4","o":0,"cp":0.1,"np":0.5},{"p":"E","id":"f4","o":1,"cp":0.093,"np":0.4},{"p":"E","id":"f4","o":2,"cp":0.08,"np":0.25},{"p":"E","id":"f4","o":3,"cp":0.068,"np":0.14},{"p":"E","id":"f4","o":4,"cp":0.035,"np":0.07},{"p":"E","id":"f4","o":5,"cp":0,"np":0},
{"p":"E","id":"f5","o":0,"cp":0.1,"np":0.4},{"p":"E","id":"f5","o":1,"cp":0.085,"np":0.28},{"p":"E","id":"f5","o":2,"cp":0.072,"np":0.16},{"p":"E","id":"f5","o":3,"cp":0.04,"np":0.075},{"p":"E","id":"f5","o":4,"cp":0,"np":0},
{"p":"E","id":"f6","o":0,"cp":0.1,"np":0.3},{"p":"E","id":"f6","o":1,"cp":0.078,"np":0.2},{"p":"E","id":"f6","o":2,"cp":0.066,"np":0.135},{"p":"E","id":"f6","o":3,"cp":0.035,"np":0.065},{"p":"E","id":"f6","o":4,"cp":0,"np":0},
{"p":"E","id":"f7","o":0,"cp":0.1,"np":0.2},{"p":"E","id":"f7","o":1,"cp":0.072,"np":0.16},{"p":"E","id":"f7","o":2,"cp":0.06,"np":0.12},{"p":"E","id":"f7","o":3,"cp":0.03,"np":0.055},{"p":"E","id":"f7","o":4,"cp":0,"np":0},
{"p":"E","id":"f8","o":0,"cp":0.1,"np":0.1},{"p":"E","id":"f8","o":1,"cp":0.058,"np":0.11},{"p":"E","id":"f8","o":2,"cp":0.03,"np":0.055},{"p":"E","id":"f8","o":3,"cp":0,"np":0},
{"p":"E","id":"f9","o":0,"cp":0.1,"np":0.0},{"p":"E","id":"f9","o":1,"cp":0.062,"np":0.09},{"p":"E","id":"f9","o":2,"cp":0.03,"np":0.045},{"p":"E","id":"f9","o":3,"cp":0,"np":0},
{"p":"E","id":"f10","o":0,"cp":0.2,"np":0.1},{"p":"E","id":"f10","o":1,"cp":0.11,"np":0.18},{"p":"E","id":"f10","o":2,"cp":0.075,"np":0.125},{"p":"E","id":"f10","o":3,"cp":0.035,"np":0.06},{"p":"E","id":"f10","o":4,"cp":0,"np":0},
{"p":"E","id":"f11","o":0,"cp":0.2,"np":0.0},{"p":"E","id":"f11","o":1,"cp":0.125,"np":0.2},{"p":"E","id":"f11","o":2,"cp":0.09,"np":0.15},{"p":"E","id":"f11","o":3,"cp":0.04,"np":0.07},{"p":"E","id":"f11","o":4,"cp":0,"np":0}
],
"arrows": [
{"p":"R","id":"a1","o":0,"cp":0,"np":0.5},{"p":"R","id":"a1","o":1,"cp":0,"np":0.004},
{"p":"R","id":"a1h","o":0,"cp":-0.019,"np":0.052},{"p":"R","id":"a1h","o":1,"cp":0,"np":0.002},{"p":"R","id":"a1h","o":2,"cp":0.0175,"np":0.052},
{"p":"R","id":"a2","o":0,"cp":0.2,"np":0.6},{"p":"R","id":"a2","o":1,"cp":0.108,"np":0.377},{"p":"R","id":"a2","o":2,"cp":0.13,"np":0.42},{"p":"R","id":"a2","o":3,"cp":0.151,"np":0.46},{"p":"R","id":"a2","o":4,"cp":0.175,"np":0.505},{"p":"R","id":"a2","o":5,"cp":0.199,"np":0.541},{"p":"R","id":"a2","o":6,"cp":0.228,"np":0.582},{"p":"R","id":"a2","o":7,"cp":0.266,"np":0.62},{"p":"R","id":"a2","o":8,"cp":0.309,"np":0.647},{"p":"R","id":"a2","o":9,"cp":0.348,"np":0.66},
{"p":"R","id":"a2h","o":0,"cp":0.316,"np":0.676},{"p":"R","id":"a2h","o":1,"cp":0.35,"np":0.66},{"p":"R","id":"a2h","o":2,"cp":0.326,"np":0.615},
{"p":"E","id":"b1","o":0,"cp":0,"np":0.4},{"p":"E","id":"b1","o":1,"cp":0,"np":0.004},
{"p":"E","id":"b1h","o":0,"cp":-0.0185,"np":0.052},{"p":"E","id":"b1h","o":1,"cp":0,"np":0.002},{"p":"E","id":"b1h","o":2,"cp":0.018,"np":0.052},
{"p":"E","id":"b2","o":0,"cp":0.2,"np":0.5},{"p":"E","id":"b2","o":1,"cp":0.138,"np":0.256},{"p":"E","id":"b2","o":2,"cp":0.155,"np":0.257},{"p":"E","id":"b2","o":3,"cp":0.2,"np":0.306},{"p":"E","id":"b2","o":4,"cp":0.25,"np":0.36},{"p":"E","id":"b2","o":5,"cp":0.299,"np":0.418},{"p":"E","id":"b2","o":6,"cp":0.35,"np":0.47},{"p":"E","id":"b2","o":7,"cp":0.403,"np":0.518},{"p":"E","id":"b2","o":8,"cp":0.448,"np":0.556},
{"p":"E","id":"b2h","o":0,"cp":0.417,"np":0.566},{"p":"E","id":"b2h","o":1,"cp":0.45,"np":0.557},{"p":"E","id":"b2h","o":2,"cp":0.429,"np":0.509}
],
"headers": [{"p":"R","label":"Rescuable gene"},{"p":"E","label":"Enrichable gene"}]
},
"hconcat": [
{
 "bounds": "flush",
 "spacing": 0,
 "vconcat": [
  {
   "width": 465, "height": 22,
   "view": {"fill": "#d4e600", "stroke": "#333333", "strokeWidth": 1},
   "data": {"name": "headers"},
   "transform": [{"filter": "datum.p == 'R'"}],
   "mark": {"type": "text", "font": "Liberation Sans", "fontSize": 19.5, "fontWeight": "bold", "color": "black", "baseline": "middle", "dy": 1},
   "encoding": {"text": {"field": "label", "type": "nominal"}}
  },
  {
   "width": 465, "height": 278,
   "view": {"stroke": "#333333", "strokeWidth": 1, "fill": "white"},
   "encoding": {
    "x": {"field": "cp", "type": "quantitative", "scale": {"domain": [-0.03, 0.63], "nice": false, "zero": false},
      "axis": {"title": null, "values": [0, 0.1, 0.2, 0.3, 0.4, 0.5, 0.6],
        "labelExpr": "round(datum.value*10) % 2 == 0 ? format(datum.value, '.1f') : ''",
        "tickOpacity": {"condition": {"test": "round(datum.value*10) % 2 == 0", "value": 1}, "value": 0},
        "gridWidth": {"condition": {"test": "round(datum.value*10) % 2 == 0", "value": 1.1}, "value": 0.55},
        "labelPadding": 2.5}},
    "y": {"field": "np", "type": "quantitative", "scale": {"domain": [-0.027, 0.689], "nice": false, "zero": false},
      "axis": {"title": "Np", "values": [0, 0.1, 0.2, 0.3, 0.4, 0.5, 0.6],
        "labelExpr": "round(datum.value*10) % 2 == 0 ? format(datum.value, '.1f') : ''",
        "tickOpacity": {"condition": {"test": "round(datum.value*10) % 2 == 0", "value": 1}, "value": 0},
        "gridWidth": {"condition": {"test": "round(datum.value*10) % 2 == 0", "value": 1.1}, "value": 0.55},
        "labelPadding": 5, "minExtent": 23, "maxExtent": 23, "titlePadding": 5}}
   },
   "layer": [
    {"data": {"name": "traj"}, "transform": [{"filter": "datum.p == 'R'"}],
     "mark": {"type": "line", "color": "#999999", "opacity": 0.38, "strokeWidth": 2.4, "strokeJoin": "round"},
     "encoding": {"detail": {"field": "id", "type": "nominal"}, "order": {"field": "o", "type": "quantitative"}}},
    {"data": {"name": "points"}, "transform": [{"filter": "datum.p == 'R'"}],
     "mark": {"type": "point", "filled": true, "stroke": "black", "strokeWidth": 0.9, "opacity": 1},
     "encoding": {
      "fill": {"field": "f", "type": "nominal", "scale": {"domain": ["g", "w"], "range": ["#00ff00", "#ffffff"]}, "legend": null},
      "shape": {"field": "k", "type": "nominal", "scale": {"domain": ["c", "s"], "range": ["circle", "square"]}, "legend": null},
      "size": {"field": "k", "type": "ordinal", "scale": {"domain": ["c", "s"], "range": [75, 170]}, "legend": null}}},
    {"data": {"name": "arrows"}, "transform": [{"filter": "datum.p == 'R'"}],
     "mark": {"type": "line", "color": "black", "strokeWidth": 4, "strokeJoin": "miter", "strokeMiterLimit": 4, "strokeCap": "butt"},
     "encoding": {"detail": {"field": "id", "type": "nominal"}, "order": {"field": "o", "type": "quantitative"}}}
   ]
  }
 ]
},
{
 "bounds": "flush",
 "spacing": 0,
 "vconcat": [
  {
   "width": 465, "height": 22,
   "view": {"fill": "#80deea", "stroke": "#333333", "strokeWidth": 1},
   "data": {"name": "headers"},
   "transform": [{"filter": "datum.p == 'E'"}],
   "mark": {"type": "text", "font": "Liberation Sans", "fontSize": 19.5, "fontWeight": "bold", "color": "black", "baseline": "middle", "dy": 1},
   "encoding": {"text": {"field": "label", "type": "nominal"}}
  },
  {
   "width": 465, "height": 278,
   "view": {"stroke": "#333333", "strokeWidth": 1, "fill": "white"},
   "encoding": {
    "x": {"field": "cp", "type": "quantitative", "scale": {"domain": [-0.03, 0.63], "nice": false, "zero": false},
      "axis": {"title": null, "values": [0, 0.1, 0.2, 0.3, 0.4, 0.5, 0.6],
        "labelExpr": "round(datum.value*10) % 2 == 0 ? format(datum.value, '.1f') : ''",
        "tickOpacity": {"condition": {"test": "round(datum.value*10) % 2 == 0", "value": 1}, "value": 0},
        "gridWidth": {"condition": {"test": "round(datum.value*10) % 2 == 0", "value": 1.1}, "value": 0.55},
        "labelPadding": 2.5}},
    "y": {"field": "np", "type": "quantitative", "scale": {"domain": [-0.027, 0.689], "nice": false, "zero": false},
      "axis": {"title": null, "values": [0, 0.1, 0.2, 0.3, 0.4, 0.5, 0.6], "labels": false, "ticks": false,
        "gridWidth": {"condition": {"test": "round(datum.value*10) % 2 == 0", "value": 1.1}, "value": 0.55},
        "minExtent": 0, "maxExtent": 0}}
   },
   "layer": [
    {"data": {"name": "traj"}, "transform": [{"filter": "datum.p == 'E'"}],
     "mark": {"type": "line", "color": "#999999", "opacity": 0.38, "strokeWidth": 2.4, "strokeJoin": "round"},
     "encoding": {"detail": {"field": "id", "type": "nominal"}, "order": {"field": "o", "type": "quantitative"}}},
    {"data": {"name": "points"}, "transform": [{"filter": "datum.p == 'E'"}],
     "mark": {"type": "point", "filled": true, "stroke": "black", "strokeWidth": 0.9, "opacity": 1},
     "encoding": {
      "fill": {"field": "f", "type": "nominal", "scale": {"domain": ["g", "w"], "range": ["#00ff00", "#ffffff"]}, "legend": null},
      "shape": {"field": "k", "type": "nominal", "scale": {"domain": ["c", "s"], "range": ["circle", "square"]}, "legend": null},
      "size": {"field": "k", "type": "ordinal", "scale": {"domain": ["c", "s"], "range": [75, 170]}, "legend": null}}},
    {"data": {"name": "arrows"}, "transform": [{"filter": "datum.p == 'E'"}],
     "mark": {"type": "line", "color": "black", "strokeWidth": 4, "strokeJoin": "miter", "strokeMiterLimit": 4, "strokeCap": "butt"},
     "encoding": {"detail": {"field": "id", "type": "nominal"}, "order": {"field": "o", "type": "quantitative"}}}
   ]
  }
 ]
}
]
}
